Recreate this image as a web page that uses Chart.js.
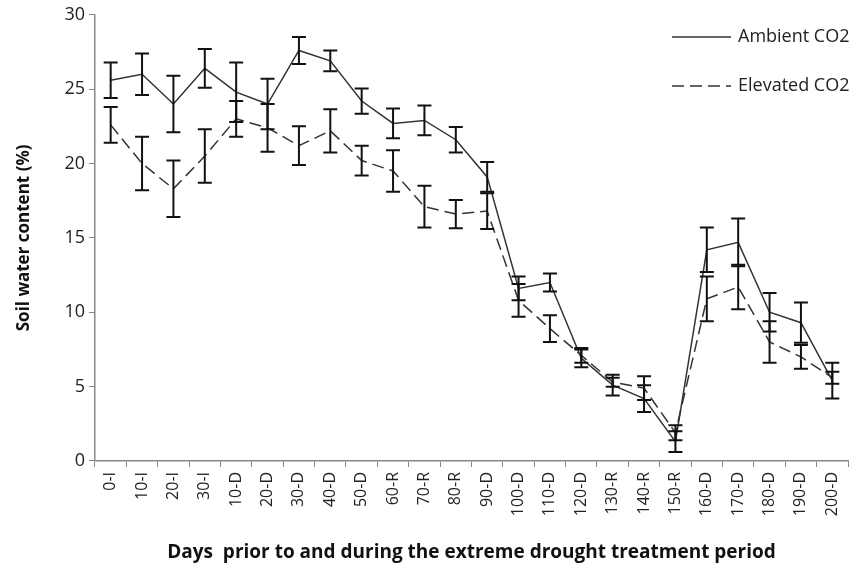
<!DOCTYPE html>
<html>
<head>
<meta charset="utf-8">
<script src="https://cdn.jsdelivr.net/npm/chart.js@4/dist/chart.umd.min.js"></script>
<style>
  body { margin: 0; background: #fff; }
  #wrap { width: 862px; height: 571px; }
</style>
</head>
<body>
<div id="wrap"><canvas id="chart" width="862" height="571"></canvas></div>
<script>
const days = ['0-I', '10-I', '20-I', '30-I', '10-D', '20-D', '30-D', '40-D', '50-D', '60-R', '70-R',
  '80-R', '90-D', '100-D', '110-D', '120-D', '130-R', '140-R', '150-R', '160-D', '170-D', '180-D', '190-D', '200-D'];

const ambient = [25.6, 26.0, 24.0, 26.4, 24.8, 24.0, 27.6, 26.9, 24.2, 22.7, 22.9, 21.6, 19.1,
  11.6, 12.0, 6.9, 5.1, 4.2, 1.3, 14.2, 14.7, 10.0, 9.3, 5.4];
const ambientErr = [1.2, 1.4, 1.9, 1.3, 2.0, 1.7, 0.9, 0.7, 0.85, 1.0, 1.0, 0.85, 1.0,
  0.8, 0.6, 0.6, 0.7, 0.9, 0.7, 1.5, 1.6, 1.3, 1.35, 1.2];
const elevated = [22.6, 20.0, 18.3, 20.5, 23.0, 22.4, 21.2, 22.2, 20.2, 19.5, 17.1, 16.6, 16.8,
  10.8, 8.9, 7.1, 5.3, 4.9, 1.9, 10.9, 11.7, 8.0, 7.0, 5.6];
const elevatedErr = [1.2, 1.8, 1.9, 1.8, 1.2, 1.6, 1.3, 1.45, 1.0, 1.4, 1.4, 0.95, 1.2,
  1.1, 0.9, 0.5, 0.3, 0.8, 0.5, 1.5, 1.5, 1.4, 0.8, 0.4];
const yTicks = [0, 5, 10, 15, 20, 25, 30];

const FONT = '"Open Sans", Lato, sans-serif';

// error bars drawn through the chart's own scales
const errorBars = {
  id: 'errorBars',
  afterDatasetsDraw(chart) {
    const ctx = chart.ctx;
    const x = chart.scales.x, y = chart.scales.y;
    ctx.save();
    ctx.strokeStyle = '#111';
    ctx.lineWidth = 2;
    chart.data.datasets.forEach(ds => {
      ds.data.forEach((v, i) => {
        const px = x.getPixelForValue(i);
        const top = y.getPixelForValue(v + ds.err[i]);
        const bot = y.getPixelForValue(v - ds.err[i]);
        ctx.beginPath();
        ctx.moveTo(px, top); ctx.lineTo(px, bot);
        ctx.moveTo(px - 7, top); ctx.lineTo(px + 7, top);
        ctx.moveTo(px - 7, bot); ctx.lineTo(px + 7, bot);
        ctx.stroke();
      });
    });
    ctx.restore();
  }
};

const legendBox = {
  id: 'legendBox',
  afterDraw(chart) {
    const ctx = chart.ctx;
    ctx.save();
    ctx.font = '18px ' + FONT;
    ctx.textBaseline = 'middle';
    ctx.fillStyle = '#222';
    chart.data.datasets.forEach((ds, i) => {
      const ly = 37 + i * 49;
      ctx.strokeStyle = ds.borderColor;
      ctx.lineWidth = 1.5;
      ctx.setLineDash(ds.borderDash || []);
      ctx.beginPath();
      ctx.moveTo(672, ly); ctx.lineTo(731, ly);
      ctx.stroke();
      ctx.fillText(ds.label, 738, ly);
    });
    ctx.restore();
  }
};

new Chart(document.getElementById('chart'), {
  type: 'line',
  data: {
    labels: days,
    datasets: [
      { label: 'Ambient CO2', data: ambient, err: ambientErr, borderColor: '#333',
        borderWidth: 1.5, pointRadius: 0, tension: 0, fill: false },
      { label: 'Elevated CO2', data: elevated, err: elevatedErr, borderColor: '#333',
        borderWidth: 1.5, borderDash: [12, 6], pointRadius: 0, tension: 0, fill: false }
    ]
  },
  options: {
    responsive: false,
    animation: false,
    layout: { padding: { top: 8, right: 14, left: 10, bottom: 3 } },
    plugins: { legend: { display: false }, tooltip: { enabled: false } },
    scales: {
      x: {
        offset: true,
        grid: { offset: true, drawOnChartArea: false, color: '#888', tickLength: 6 },
        border: { color: '#888', width: 1.5 },
        ticks: { color: '#222', maxRotation: 90, minRotation: 90, autoSkip: false,
          font: { family: FONT, size: 16 }, padding: 5 },
        title: { display: true, text: 'Days  prior to and during the extreme drought treatment period',
          color: '#111', font: { family: FONT, size: 19, weight: 'bold' }, padding: { top: 20, bottom: 4 } }
      },
      y: {
        min: 0, max: 30,
        afterBuildTicks: axis => { axis.ticks = yTicks.map(v => ({ value: v })); },
        grid: { drawOnChartArea: false, color: '#888', tickLength: 6 },
        border: { color: '#888', width: 1.5 },
        ticks: { color: '#222', font: { family: FONT, size: 18 }, padding: 4 },
        title: { display: true, text: 'Soil water content (%)', color: '#111',
          font: { family: FONT, size: 17, weight: 'bold' }, padding: { bottom: 26 } }
      }
    }
  },
  plugins: [errorBars, legendBox]
});
</script>
</body>
</html>
